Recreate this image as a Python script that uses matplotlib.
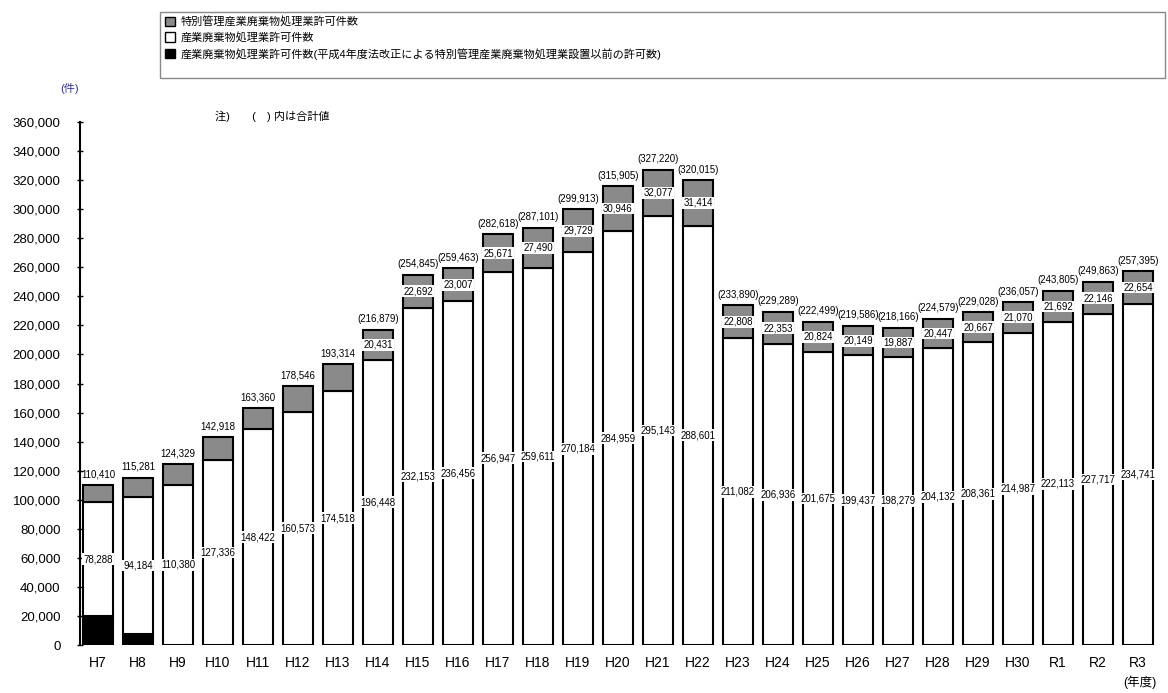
import matplotlib
matplotlib.use("Agg")
import matplotlib.pyplot as plt
from matplotlib.patches import Patch, Rectangle
import numpy as np

plt.rcParams['font.family'] = ['Liberation Sans', 'Noto Sans CJK JP', 'DejaVu Sans']

years = ["H7", "H8", "H9", "H10", "H11", "H12", "H13", "H14", "H15", "H16", "H17",
         "H18", "H19", "H20", "H21", "H22", "H23", "H24", "H25", "H26", "H27", "H28",
         "H29", "H30", "R1", "R2", "R3"]
# 産業廃棄物処理業許可件数(平成4年度法改正前の許可数)
blacks = [20000, 7700] + [0] * 25
# 産業廃棄物処理業許可件数
whites = [78288, 94184, 110380, 127336, 148422, 160573, 174518, 196448, 232153, 236456,
          256947, 259611, 270184, 284959, 295143, 288601, 211082, 206936, 201675, 199437,
          198279, 204132, 208361, 214987, 222113, 227717, 234741]
# 特別管理産業廃棄物処理業許可件数
grays = [12122, 13397, 13949, 15582, 14938, 17973, 18796, 20431, 22692, 23007, 25671,
         27490, 29729, 30946, 32077, 31414, 22808, 22353, 20824, 20149, 19887, 20447,
         20667, 21070, 21692, 22146, 22654]

legend_labels = ["特別管理産業廃棄物処理業許可件数",
                 "産業廃棄物処理業許可件数",
                 "産業廃棄物処理業許可件数(平成4年度法改正による特別管理産業廃棄物処理業設置以前の許可数)"]

gray_color = "#8a8a8a"
x = np.arange(len(years))
blacks = np.array(blacks)
whites = np.array(whites)
grays = np.array(grays)
totals = blacks + whites + grays

fig = plt.figure(figsize=(11.68, 6.93), dpi=100)
ax = fig.add_axes([80 / 1168, 48 / 693, 1080 / 1168, 523 / 693])

w = 0.73
ax.bar(x, blacks, w, color="black", edgecolor="black", linewidth=1.5)
ax.bar(x, whites, w, bottom=blacks, color="white", edgecolor="black", linewidth=1.5)
ax.bar(x, grays, w, bottom=blacks + whites, color=gray_color, edgecolor="black", linewidth=1.5)

box = dict(facecolor="white", edgecolor="none", pad=0.6)
for i in range(len(years)):
    ax.text(x[i], blacks[i] + whites[i] / 2, f"{whites[i]:,}", ha="center", va="center",
            fontsize=7, bbox=box)
    if i >= 7:
        ax.text(x[i], blacks[i] + whites[i] + grays[i] / 2, f"{grays[i]:,}", ha="center",
                va="center", fontsize=7, bbox=box)
        ax.annotate(f"({totals[i]:,})", (x[i], totals[i]), xytext=(0, 4),
                    textcoords="offset points", ha="center", va="bottom", fontsize=7)
    else:
        ax.annotate(f"{totals[i]:,}", (x[i], totals[i]), xytext=(0, 4),
                    textcoords="offset points", ha="center", va="bottom", fontsize=7)

ax.set_xlim(-0.45, len(years) - 0.45)
ax.set_ylim(0, 360000)
ax.set_yticks(np.arange(0, 360001, 20000))
ax.set_yticklabels([f"{v:,}" for v in range(0, 360001, 20000)], fontsize=9.5)
ax.set_xticks(x)
ax.set_xticklabels(years, fontsize=10)
ax.tick_params(axis="x", length=0, pad=8)
ax.tick_params(axis="y", length=4, width=1, direction="inout", pad=12)
for s in ["top", "right", "bottom"]:
    ax.spines[s].set_visible(False)
ax.spines["left"].set_linewidth(1.5)

fig.text(70 / 1168, 1 - 88 / 693, "(件)", fontsize=8, ha="center", va="center", color="#333399")
fig.text(215 / 1168, 1 - 116 / 693, "注)　　(　) 内は合計値", fontsize=8, ha="left", va="center")
fig.text(1140 / 1168, 1 - 682 / 693, "(年度)", fontsize=9, ha="center", va="center")

# legend frame
fig.patches.append(Rectangle((160 / 1168, 1 - 78 / 693), 1005 / 1168, 66 / 693,
                             transform=fig.transFigure, facecolor="white",
                             edgecolor="#888888", linewidth=1))
handles = [Patch(facecolor=gray_color, edgecolor="black"),
           Patch(facecolor="white", edgecolor="black"),
           Patch(facecolor="black", edgecolor="black")]
fig.legend(handles, legend_labels, loc="upper left",
           bbox_to_anchor=(164 / 1168, 1 - 15 / 693), frameon=False, fontsize=8,
           handlelength=0.9, handleheight=0.9, handletextpad=0.5, labelspacing=0.45,
           borderpad=0.1, borderaxespad=0)

fig.savefig("out.png", dpi=100)
